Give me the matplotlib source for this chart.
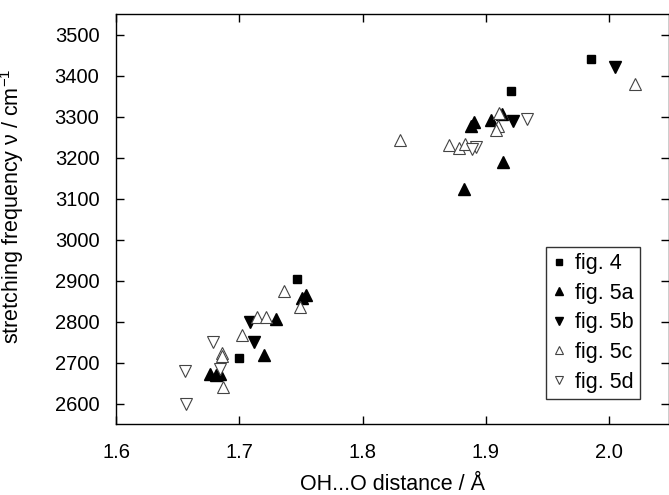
import matplotlib
matplotlib.use("Agg")
import matplotlib.pyplot as plt

plt.rcParams['font.family'] = ['Liberation Sans', 'DejaVu Sans']

# fig. 4 (filled squares)
fig4_x = [1.985, 1.920, 1.747, 1.700]
fig4_y = [3441, 3361, 2904, 2710]

# fig. 5a (filled up triangles)
fig5a_x = [1.882, 1.914, 1.904, 1.888, 1.890, 1.913, 1.751, 1.754, 1.730, 1.720, 1.676, 1.681, 1.684]
fig5a_y = [3124, 3188, 3292, 3278, 3286, 3305, 2858, 2864, 2806, 2718, 2672, 2670, 2672]

# fig. 5b (filled down triangles)
fig5b_x = [2.005, 1.922, 1.709, 1.712]
fig5b_y = [3420, 3288, 2800, 2751]

# fig. 5c (open up triangles)
fig5c_x = [2.021, 1.830, 1.870, 1.878, 1.883, 1.911, 1.910, 1.908,
           1.736, 1.749, 1.714, 1.722, 1.702, 1.686, 1.686, 1.687]
fig5c_y = [3380, 3243, 3231, 3222, 3234, 3308, 3277, 3266,
           2874, 2836, 2812, 2810, 2766, 2722, 2715, 2641]

# fig. 5d (open down triangles)
fig5d_x = [1.933, 1.892, 1.889, 1.679, 1.684, 1.656, 1.657]
fig5d_y = [3294, 3225, 3220, 2751, 2684, 2679, 2600]

W, H = 669, 495
fig = plt.figure(figsize=(W / 100, H / 100), dpi=100)
# axes box in pixels: left 116, right 669, top 14, bottom 424
ax = fig.add_axes([116 / W, (H - 424) / H, 553 / W, 410 / H])

ax.plot(fig4_x, fig4_y, 's', color='black', ms=6, ls='none', label='fig. 4')
ax.plot(fig5a_x, fig5a_y, '^', color='black', ms=8, ls='none', label='fig. 5a')
ax.plot(fig5b_x, fig5b_y, 'v', color='black', ms=8, ls='none', label='fig. 5b')
ax.plot(fig5c_x, fig5c_y, '^', mfc='white', mec='#444444', mew=0.8, ms=8, ls='none', label='fig. 5c')
ax.plot(fig5d_x, fig5d_y, 'v', mfc='white', mec='#444444', mew=0.8, ms=8, ls='none', label='fig. 5d')

ax.set_xlim(1.6, 2.0485)
ax.set_ylim(2550, 3550)
ax.set_xticks([1.6, 1.7, 1.8, 1.9, 2.0])
ax.set_xticklabels(['1.6', '1.7', '1.8', '1.9', '2.0'])
ax.set_yticks(range(2600, 3501, 100))

ax.tick_params(direction='in', top=True, right=True, length=6, width=1.0, labelsize=14.5)
ax.tick_params(axis='x', pad=14)
ax.tick_params(axis='y', pad=12)
for s in ax.spines.values():
    s.set_linewidth(1.0)

ax.set_xlabel('OH...O distance / Å', fontsize=15.5, labelpad=8)
ax.set_ylabel('stretching frequency ν / cm$^{\\mathregular{-1}}$', fontsize=15.5)
ax.yaxis.set_label_coords(-0.162, 0.532)

leg = ax.legend(loc='lower right', bbox_to_anchor=(0.9476, 0.061), fontsize=15.5, frameon=True,
                fancybox=False, edgecolor='black', handletextpad=0.45, handlelength=0.6,
                borderpad=0.3, borderaxespad=0, labelspacing=0.4, markerscale=0.8)
leg.get_frame().set_linewidth(1.0)

fig.savefig('out.png', dpi=100)
